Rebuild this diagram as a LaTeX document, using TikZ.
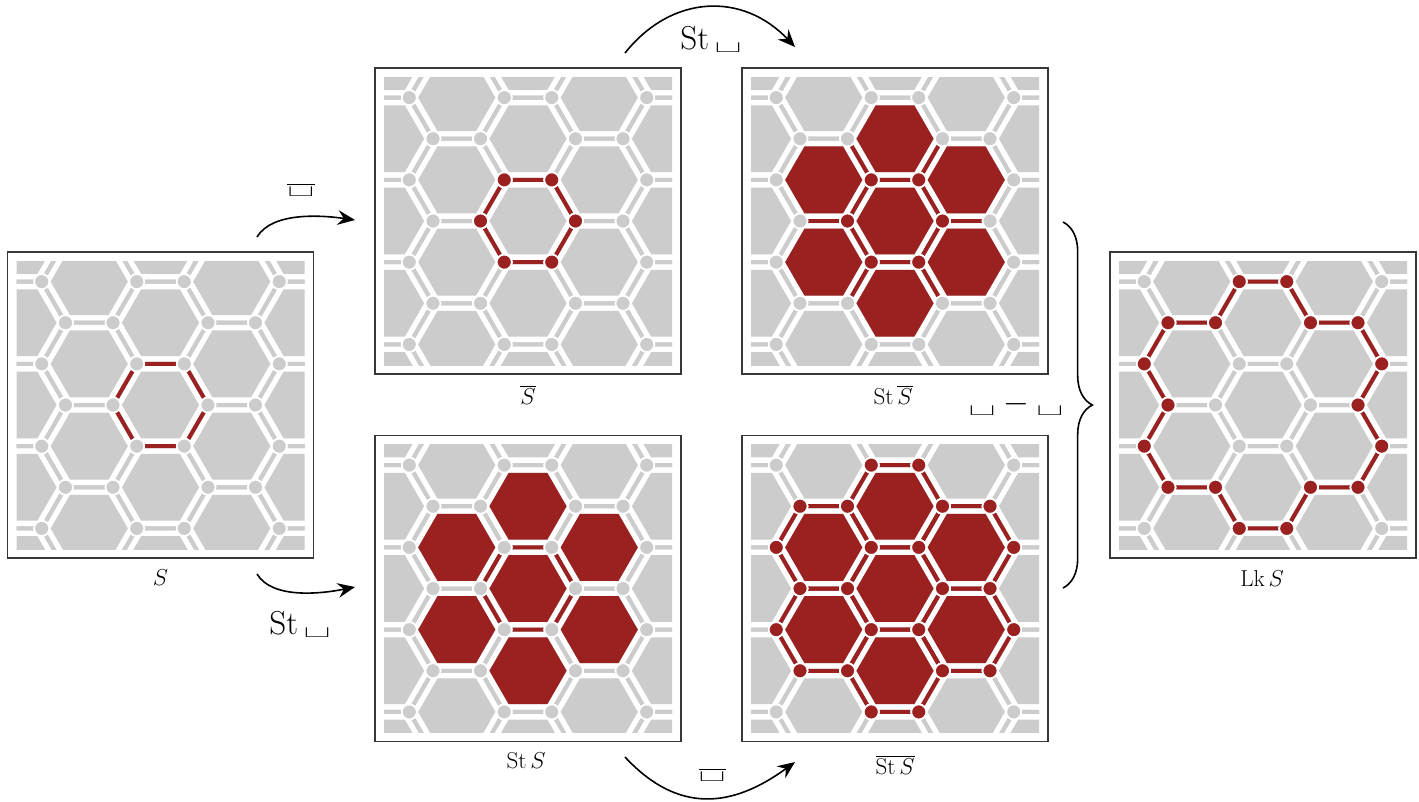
\documentclass[tikz,border=0pt]{standalone}
\usepackage{graphicx}
\usetikzlibrary{arrows.meta,decorations.pathreplacing,calc}

\definecolor{cellgray}{RGB}{204,204,204}
\definecolor{cellred}{RGB}{155,33,33}
\definecolor{framegray}{RGB}{55,55,55}

% placeholder slot used in the operator labels
\newcommand\slot{\scalebox{1.5}[0.85]{\bfseries\textvisiblespace}}

% hexagonal lattice measures (in px units of the picture)
\def\hexa{47.5}   % edge length
\def\hexn{82.27}  % distance between neighbouring cell centres
\def\hexf{38.6}   % corner radius of a filled cell
\def\vrad{5.6pt}  % vertex dot radius

\newcommand\hexcentres{-142.5/-164.54,-142.5/-82.27,-142.5/0,-142.5/82.27,-142.5/164.54,0/-164.54,0/-82.27,0/0,0/82.27,0/164.54,142.5/-164.54,142.5/-82.27,142.5/0,142.5/82.27,142.5/164.54,-71.25/-123.4,-71.25/-41.14,-71.25/41.14,-71.25/123.4,71.25/-123.4,71.25/-41.14,71.25/41.14,71.25/123.4}

\tikzset{
  panel/.style={draw=framegray, line width=1pt, fill=white,
    minimum width=229.5pt, minimum height=229.5pt, inner sep=0pt, outer sep=0pt},
  cellface/.style={fill=cellgray},
  redface/.style={fill=cellred},
  celledge/.style={draw=cellgray, line width=3pt},
  redge/.style={draw=cellred, line width=3pt},
  vtx/.style={fill=cellgray, draw=white, line width=1.2pt},
  rvtx/.style={fill=cellred, draw=white, line width=1.2pt},
  lbl/.style={font=\fontsize{16}{19}\selectfont, inner sep=1pt},
  biglbl/.style={font=\fontsize{24}{28}\selectfont, inner sep=1pt},
  arr/.style={line width=1.2pt, -{Stealth[length=13pt,width=11pt,inset=4.5pt]}},
}

% red layers, drawn in a frame centred on the middle cell
\newcommand\ringedges{\draw[redge] (0:\hexa) -- (60:\hexa) -- (120:\hexa) -- (180:\hexa) -- (240:\hexa) -- (300:\hexa) -- cycle;}
\newcommand\ringverts{\foreach \t in {0,60,...,300} \filldraw[rvtx] (\t:\hexa) circle[radius=\vrad];}
\newcommand\spokes{\foreach \t in {0,60,...,300} \draw[redge] (\t:\hexa) -- (\t:95);}
\newcommand\flowerfaces{%
  \fill[redface] (0:\hexf) -- (60:\hexf) -- (120:\hexf) -- (180:\hexf) -- (240:\hexf) -- (300:\hexf) -- cycle;
  \foreach \k in {0,...,5}
    \fill[redface] ({30+60*\k}:\hexn) +(0:\hexf) -- +(60:\hexf) -- +(120:\hexf) -- +(180:\hexf) -- +(240:\hexf) -- +(300:\hexf) -- cycle;}
\newcommand\floweredges{\ringedges
  \foreach \k in {0,...,5}
    \draw[redge] ({30+60*\k}:\hexn) +(0:\hexa) -- +(60:\hexa) -- +(120:\hexa) -- +(180:\hexa) -- +(240:\hexa) -- +(300:\hexa) -- cycle;}
\newcommand\flowerverts{%
  \foreach \k in {0,...,5} \foreach \t in {0,60,...,300}
    \filldraw[rvtx] ({30+60*\k}:\hexn) ++(\t:\hexa) circle[radius=\vrad];}
\newcommand\rimedges{%
  \foreach \k in {0,...,5}
    \draw[redge] ({30+60*\k}:\hexn) +({60*\k-60}:\hexa) -- +({60*\k}:\hexa) -- +({60*\k+60}:\hexa) -- +({60*\k+120}:\hexa);}
\newcommand\rimverts{%
  \foreach \k in {0,...,5} \foreach \m in {-1,0,1,2}
    \filldraw[rvtx] ({30+60*\k}:\hexn) ++({60*(\k+\m)}:\hexa) circle[radius=\vrad];}

% one framed patch of the hexagonal complex: #1 frame node, #2 red cells and edges, #3 red vertices
\newcommand\cellpanel[3]{%
  \begin{scope}[shift={(#1.center)}]
    \clip (-144,-144) rectangle (144,144);
    \foreach \x/\y in \hexcentres
      \fill[cellface] (\x,\y) +(0:\hexf) -- +(60:\hexf) -- +(120:\hexf) -- +(180:\hexf) -- +(240:\hexf) -- +(300:\hexf) -- cycle;
    \foreach \x/\y in \hexcentres
      \draw[celledge] (\x,\y) +(0:\hexa) -- +(60:\hexa) -- +(120:\hexa) -- +(180:\hexa) -- +(240:\hexa) -- +(300:\hexa) -- cycle;
    #2
    \foreach \x/\y in \hexcentres
      \foreach \t in {0,60,...,300}
        \filldraw[vtx] (\x,\y) ++(\t:\hexa) circle[radius=\vrad];
    #3
  \end{scope}}

\begin{document}
\begin{tikzpicture}[x=0.75pt,y=-0.75pt]
\fill[white] (0,0) rectangle (1419,801);
\useasboundingbox (0,0) rectangle (1419,801);

% frames
\node[panel] (pS)      at (160.5,405) {};
\node[panel] (pSbar)   at (528,221) {};
\node[panel] (pStSbar) at (895,221) {};
\node[panel] (pStS)    at (528,588.5) {};
\node[panel] (pClStS)  at (895,588.5) {};
\node[panel] (pLk)     at (1263,405) {};

% contents
\cellpanel{pS}{\ringedges}{}
\cellpanel{pSbar}{\ringedges}{\ringverts}
\cellpanel{pStSbar}{\flowerfaces\ringedges\spokes}{\ringverts}
\cellpanel{pStS}{\flowerfaces\ringedges}{}
\cellpanel{pClStS}{\flowerfaces\floweredges}{\ringverts\flowerverts}
\cellpanel{pLk}{\rimedges}{\rimverts}

% captions
\node[lbl] (tS)      at (160.5,578) {$S$};
\node[lbl] (tSbar)   at (528,395) {$\overline{S}$};
\node[lbl] (tStSbar) at (893,395) {$\mathrm{St}\,\overline{S}$};
\node[lbl] (tStS)    at (526,761) {$\mathrm{St}\,S$};
\node[lbl] (tClStS)  at (895,765) {$\overline{\mathrm{St}\,S}$};
\node[lbl] (tLk)     at (1262,578) {$\mathrm{Lk}\,S$};

% operator arrows
\coordinate (c1s) at (257,237);  \coordinate (c1e) at (355,220);
\coordinate (c2s) at (257,574);  \coordinate (c2e) at (355,587);
\coordinate (c3s) at (625,53);   \coordinate (c3e) at (795,47);
\coordinate (c4s) at (625,757);  \coordinate (c4e) at (795,762);
\draw[arr] (c1s) .. controls (272,212) and (320,215) .. (c1e);
\draw[arr] (c2s) .. controls (272,599) and (320,594) .. (c2e);
\draw[arr] (c3s) .. controls (672,-6) and (743,-8) .. (c3e);
\draw[arr] (c4s) .. controls (678,814) and (732,808) .. (c4e);

\node[biglbl] (oCl1) at (301,190) {$\overline{\mbox{\slot}}$};
\node[biglbl] (oSt1) at (300,625) {$\mathrm{St}\,\mbox{\slot}$};
\node[biglbl] (oSt2) at (711,40)  {$\mathrm{St}\,\mbox{\slot}$};
\node[biglbl] (oCl2) at (712,775) {$\overline{\mbox{\slot}}$};

% brace with the difference operator
\coordinate (b1) at (1063,222);
\coordinate (b2) at (1063,588);
\draw[line width=1.2pt, decorate, decoration={brace, amplitude=22pt}] (b1) -- (b2);
\node[biglbl] (oDiff) at (1016,404) {$\mbox{\slot}-\mbox{\slot}$};
\end{tikzpicture}
\end{document}
